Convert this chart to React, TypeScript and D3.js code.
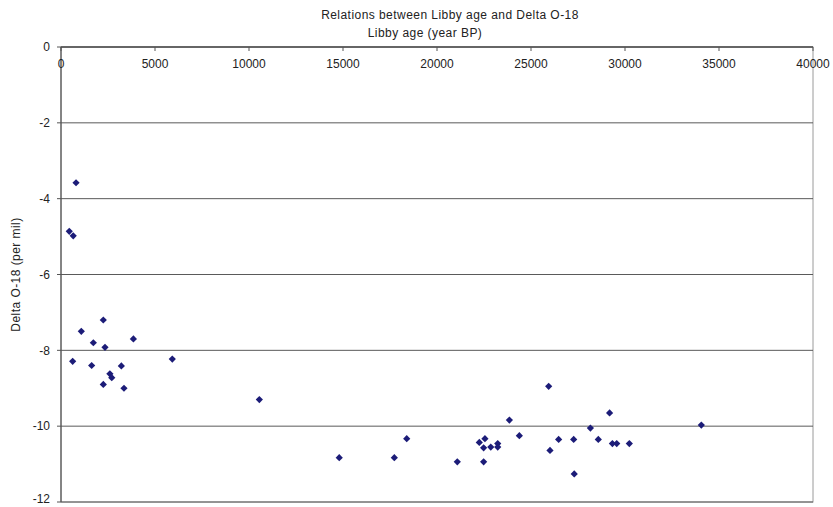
import React from "react";
import * as d3 from "d3";

// Libby radiocarbon age (year BP) and Delta O-18 (per mil) of the samples
const libbyAge: number[] = [
  800, 440, 650, 620, 1080, 1720, 1630, 2250, 2340, 2600, 2700, 2250, 3210, 3350, 3850, 5920,
  10550, 14800, 17730, 18390, 21080, 22250, 22550, 22480, 22480, 22860, 23230, 23230, 23850,
  24380, 25940, 26010, 26470, 27270, 27300, 28160, 28580, 29180, 29330, 29560, 30230, 34060,
];
const deltaO18: number[] = [
  -3.58, -4.86, -4.98, -8.29, -7.5, -7.8, -8.4, -7.2, -7.92, -8.62, -8.72, -8.9, -8.41, -9.0, -7.7, -8.23,
  -9.3, -10.83, -10.83, -10.33, -10.94, -10.43, -10.33, -10.57, -10.94, -10.55, -10.46, -10.55, -9.84,
  -10.25, -8.95, -10.64, -10.35, -10.35, -11.26, -10.05, -10.35, -9.65, -10.46, -10.46, -10.46, -9.97,
];

const xTicks: number[] = [0, 5000, 10000, 15000, 20000, 25000, 30000, 35000, 40000];
const yTicks: number[] = [0, -2, -4, -6, -8, -10, -12];

const chartTitle = "Relations between Libby age and Delta O-18";
const xTitle = "Libby age (year BP)";
const yTitle = "Delta O-18 (per mil)";

const W = 833;
const H = 507;
const left = 61;
const right = 813;
const top = 47;
const bottom = 502;
const font = "'Liberation Sans', Arial, sans-serif";

export default function App() {
  const x = d3.scaleLinear().domain([0, 40000]).range([left, right]);
  const y = d3.scaleLinear().domain([0, -12]).range([top, bottom]);
  // square turned 45 degrees: a small diamond marker
  const marker = d3.symbol().type(d3.symbolSquare).size(26)();

  const points = libbyAge.map((a, i) => ({ a, d: deltaO18[i] }));

  return (
    <svg
      width={W}
      height={H}
      style={{ position: "absolute", left: 0, top: 0, background: "#fff" }}
      fontFamily={font}
    >
      <rect x={0} y={0} width={W} height={H} fill="#fff" />
      {/* plot frame */}
      <rect x={left} y={top} width={right - left} height={bottom - top} fill="none" stroke="#9a9a9a" strokeWidth={1} />
      {/* horizontal grid */}
      {yTicks.filter((t) => t !== 0).map((t) => (
        <line key={t} x1={left} x2={right} y1={y(t)} y2={y(t)} stroke="#5a5a5a" strokeWidth={1} />
      ))}
      {/* y axis */}
      <line x1={left} x2={left} y1={top} y2={bottom} stroke="#555" strokeWidth={1.2} />
      {yTicks.map((t) => (
        <g key={t}>
          <line x1={left - 4} x2={left} y1={y(t)} y2={y(t)} stroke="#555" />
          <text
            x={left - 11}
            y={Math.min(y(t), H - 8)}
            dy="0.35em"
            textAnchor="end"
            fontSize={12}
            fill="#222"
          >
            {String(t)}
          </text>
        </g>
      ))}
      {/* x axis crossing at y = 0 */}
      <line x1={left} x2={right} y1={y(0)} y2={y(0)} stroke="#444" strokeWidth={1.4} />
      {xTicks.map((t) => (
        <g key={t}>
          <line x1={x(t)} x2={x(t)} y1={y(0)} y2={y(0) + 4} stroke="#555" />
          <text x={x(t)} y={y(0) + 21} textAnchor="middle" fontSize={12} fill="#222">
            {t}
          </text>
        </g>
      ))}
      {/* titles */}
      <text x={450} y={19} textAnchor="middle" fontSize={12} letterSpacing={0.45} fill="#222">
        {chartTitle}
      </text>
      <text x={425} y={37} textAnchor="middle" fontSize={12} letterSpacing={0.45} fill="#222">
        {xTitle}
      </text>
      <text
        transform={`translate(20,${(top + bottom) / 2}) rotate(-90)`}
        textAnchor="middle"
        fontSize={12}
        letterSpacing={0.45}
        fill="#222"
      >
        {yTitle}
      </text>
      {/* samples */}
      {points.map((p, i) => (
        <path key={i} d={marker} transform={`translate(${x(p.a)},${y(p.d)}) rotate(45)`} fill="#1c1c78" />
      ))}
    </svg>
  );
}
